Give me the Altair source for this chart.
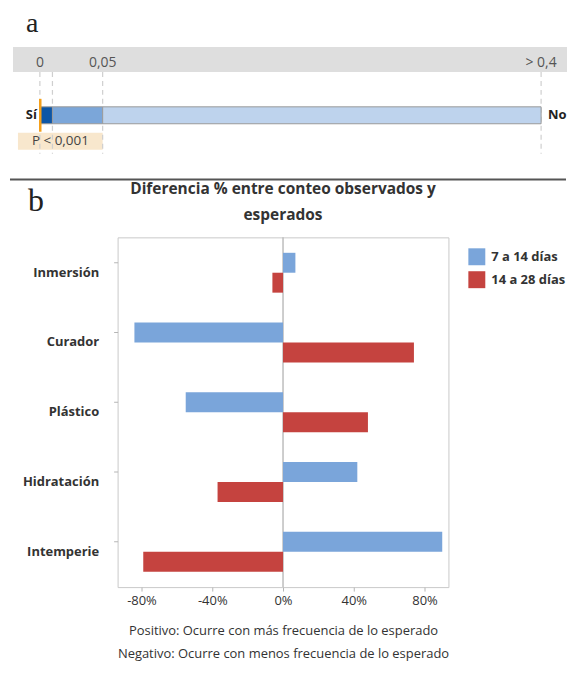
import altair as alt
import pandas as pd

# ---------------- Panel a data (p-value bar) ----------------
p_seg_start = [0, 0.01, 0.05]
p_seg_end = [0.01, 0.05, 0.4]
p_seg_level = ["n1", "n2", "n3"]
p_ticks = [0, 0.05, 0.4]
p_tick_labels = ["0", "0,05", "> 0,4"]
p_dashes = [0, 0.01, 0.05, 0.4]
p_value = [0.0003]
p_text = ["P < 0,001"]

# ---------------- Panel b data ----------------
categorias = ["Inmersión", "Curador", "Plástico", "Hidratación", "Intemperie"]
series = ["7 a 14 días", "14 a 28 días"]
dif_7_14 = [7, -84, -55, 42, 90]
dif_14_28 = [-6, 74, 48, -37, -79]
x_ticks = [-80, -40, 0, 40, 80]
titulo_b = ["Diferencia % entre conteo observados y", "esperados"]
nota_b = ["Positivo: Ocurre con más frecuencia de lo esperado",
          "Negativo: Ocurre con menos frecuencia de lo esperado"]

BLUE = "#7aa5da"
RED = "#c5433f"
FONT = "Open Sans"
SERIF = "Liberation Serif"

# ================= Panel a =================
xs = alt.Scale(domain=[0, 0.05, 0.4], range=[-78, -15, 425], nice=False, zero=False)
one = pd.DataFrame({"k": [0]})

band = alt.Chart(one).mark_rect(color="#dedede").encode(
    x=alt.value(-105), x2=alt.value(451), y=alt.value(37), y2=alt.value(62)
)
df_box = pd.DataFrame({"inicio": [0], "fin": [0.05]})
box = alt.Chart(df_box).mark_rect(color="#f8e7cd", xOffset=-22).encode(
    x=alt.X("inicio:Q", scale=xs, axis=None), x2="fin:Q",
    y=alt.value(123), y2=alt.value(140)
)
df_dash = pd.DataFrame({"p": p_dashes})
dashes = alt.Chart(df_dash).mark_rule(color="#cfcfcf", strokeDash=[5, 4], strokeWidth=1.2).encode(
    x=alt.X("p:Q", scale=xs, axis=None), y=alt.value(62), y2=alt.value(144)
)
df_ticks = pd.DataFrame({"p": p_ticks, "etiqueta": p_tick_labels})
tick_txt = alt.Chart(df_ticks).mark_text(fontSize=14, color="#555", baseline="middle", font=FONT).encode(
    x=alt.X("p:Q", scale=xs, axis=None), y=alt.value(53), text="etiqueta:N"
)
df_seg = pd.DataFrame({"inicio": p_seg_start, "fin": p_seg_end, "nivel": p_seg_level})
segs = alt.Chart(df_seg).mark_rect(stroke="#9a9a9a", strokeWidth=1).encode(
    x=alt.X("inicio:Q", scale=xs, axis=None), x2="fin:Q",
    y=alt.value(97), y2=alt.value(114),
    color=alt.Color("nivel:N", scale=alt.Scale(domain=p_seg_level,
                                              range=["#0d56a6", "#7ba6d9", "#bed3ed"]), legend=None)
)
df_p = pd.DataFrame({"p": p_value, "texto": p_text})
p_line = alt.Chart(df_p).mark_rule(color="#f5a01a", strokeWidth=2.5).encode(
    x=alt.X("p:Q", scale=xs, axis=None), y=alt.value(89), y2=alt.value(122)
)
p_label = alt.Chart(df_box).mark_text(fontSize=13.5, color="#444", align="left", dx=-8,
                                      baseline="middle", font=FONT).encode(
    x=alt.X("inicio:Q", scale=xs, axis=None), y=alt.value(131), text=alt.value(p_text[0])
)
df_ends = pd.DataFrame({"p": [0, 0.4], "txt": ["Sí", "No"]})
si_lbl = alt.Chart(df_ends.iloc[[0]]).mark_text(fontSize=13, fontWeight="bold", color="#222",
                                                align="right", dx=-3, baseline="middle", font=FONT).encode(
    x=alt.X("p:Q", scale=xs, axis=None), y=alt.value(105), text="txt:N"
)
no_lbl = alt.Chart(df_ends.iloc[[1]]).mark_text(fontSize=13, fontWeight="bold", color="#222",
                                                align="left", dx=7, baseline="middle", font=FONT).encode(
    x=alt.X("p:Q", scale=xs, axis=None), y=alt.value(105), text="txt:N"
)
a_lbl = alt.Chart(one).mark_text(fontSize=28, font=SERIF, color="#222", align="left",
                                 baseline="alphabetic").encode(
    x=alt.value(-92), y=alt.value(22), text=alt.value("a")
)

panel_a = alt.layer(band, box, dashes, tick_txt, segs, p_line, p_label, si_lbl, no_lbl, a_lbl).properties(
    width=451, height=167
)

# ================= Panel b =================
df_b = pd.DataFrame({
    "categoria": categorias * 2,
    "serie": [series[0]] * len(categorias) + [series[1]] * len(categorias),
    "valor": dif_7_14 + dif_14_28,
})

xb_scale = alt.Scale(domain=[-93.5, 93.5], nice=False, zero=False)
xb = alt.X("valor:Q", scale=xb_scale,
           axis=alt.Axis(values=x_ticks, labelExpr="datum.value + '%'", grid=False, domain=False,
                         tickSize=4, tickColor="#b5b5b5", labelFontSize=13, labelColor="#333",
                         labelPadding=3, labelFont=FONT,
                         title=nota_b,
                         titleFontWeight="normal", titleFontSize=13, titleColor="#333",
                         titleFont=FONT, titleLineHeight=23, titlePadding=18))
yb = alt.Y("categoria:N", sort=categorias,
           scale=alt.Scale(paddingInner=30 / 70, paddingOuter=0.2214),
           axis=alt.Axis(title=None, bandPosition=0.25, domain=False, tickSize=4, tickColor="#b5b5b5",
                         labelFontSize=13, labelFontWeight="bold", labelColor="#333",
                         labelPadding=15, labelFont=FONT))

zero = alt.Chart(one).mark_rule(color="#bdbdbd", strokeWidth=1.5).encode(
    x=alt.X("k:Q", scale=xb_scale)
)
bars = alt.Chart(df_b).mark_bar().encode(
    x=xb, y=yb,
    yOffset=alt.YOffset("serie:N", sort=series, scale=alt.Scale(paddingInner=0, paddingOuter=0)),
    color=alt.Color("serie:N", sort=series, scale=alt.Scale(domain=series, range=[BLUE, RED]),
                    legend=alt.Legend(title=None, orient="none", legendX=352, legendY=11,
                                      symbolType="square", symbolSize=289, symbolStrokeWidth=0,
                                      labelFontSize=13, labelFontWeight="bold", labelColor="#333",
                                      labelFont=FONT, labelOffset=6, rowPadding=6, padding=0)),
)
divider = alt.Chart(one).mark_rule(color="#555", strokeWidth=2).encode(
    x=alt.value(-108), x2=alt.value(450), y=alt.value(-58)
)
b_lbl = alt.Chart(one).mark_text(fontSize=32, font=SERIF, color="#222", align="left",
                                 baseline="alphabetic").encode(
    x=alt.value(-90), y=alt.value(-26), text=alt.value("b")
)
df_tit = pd.DataFrame({"linea": titulo_b, "k": [0, 0], "yy": [-49, -22]})
title_txt = alt.Chart(df_tit).mark_text(fontSize=15.5, fontWeight="bold", color="#333", font=FONT,
                                        align="center", baseline="middle").encode(
    x=alt.X("k:Q", scale=xb_scale), y=alt.Y("yy:Q", scale=None), text="linea:N"
)

panel_b = alt.layer(zero, bars, divider, b_lbl, title_txt).properties(
    width=332, height=351,
    view=alt.ViewBackground(stroke="#c9c9c9", strokeWidth=1),
)

chart = alt.vconcat(panel_a, panel_b, spacing=0).resolve_scale(
    x="independent", y="independent", color="independent"
).properties(
    padding=0
).configure(font=FONT).configure_view(stroke="transparent")

chart.save("out.html", embed_options={"renderer": "svg", "actions": False})
